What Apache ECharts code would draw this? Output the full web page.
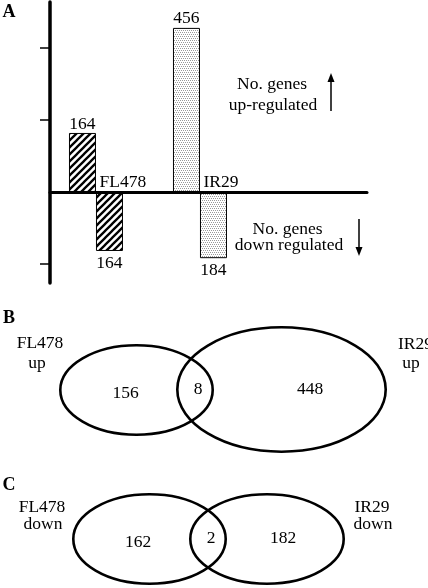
<!DOCTYPE html>
<html lang="en">
<head>
<meta charset="UTF-8">
<title>Up / down regulated genes</title>
<style>
  html, body { margin: 0; padding: 0; background: #fff; }
  #main { width: 428px; height: 588px; }
</style>
</head>
<body>
<div id="main"></div>
<script src="https://cdn.jsdelivr.net/npm/echarts@6/dist/echarts.min.js"></script>
<script>
// data
var genotypes = ['FL478', 'IR29'];
var upRegulated = [164, 456];
var downRegulated = [-164, -184];
var yTickValues = [-200, 200, 400];
// venn counts: [FL478 only, shared, IR29 only]
var upOverlap = [156, 8, 448];
var downOverlap = [162, 2, 182];

// layout for the venn panels (page pixels)
var vennUpEllipses = [[136.5, 390, 76.2, 44.7], [281.5, 389.5, 104.2, 62.2]];
var vennDownEllipses = [[149.5, 539, 76.2, 44.7], [267, 539, 76.7, 44.7]];
var vennUpLabelPos = [[125.5, 393], [198, 389], [310, 389]];
var vennDownLabelPos = [[138, 542], [211, 538], [283, 538]];

var FONT = '"Liberation Serif", "Times New Roman", serif';
var FS = 17.5;

// fill patterns
function hatchPattern() {
    var s = 7;
    var c = document.createElement('canvas');
    c.width = c.height = s;
    var g = c.getContext('2d');
    g.fillStyle = '#fff';
    g.fillRect(0, 0, s, s);
    g.strokeStyle = '#000';
    g.lineWidth = 2.3;
    g.beginPath();
    g.moveTo(-1, s + 1); g.lineTo(s + 1, -1);
    g.moveTo(-1, 1); g.lineTo(1, -1);
    g.moveTo(s - 1, s + 1); g.lineTo(s + 1, s - 1);
    g.stroke();
    return c;
}
function dotPattern() {
    var c = document.createElement('canvas');
    c.width = c.height = 4;
    var g = c.getContext('2d');
    g.fillStyle = '#fff';
    g.fillRect(0, 0, 4, 4);
    g.fillStyle = '#999';
    g.fillRect(0, 0, 1, 1);
    g.fillRect(2, 0, 1, 1);
    g.fillRect(1, 2, 1, 1);
    g.fillRect(3, 2, 1, 1);
    return c;
}
var fills = [
    { image: hatchPattern(), repeat: 'repeat' },
    { image: dotPattern(), repeat: 'repeat' }
];

function barData(values) {
    return values.map(function (v, i) {
        return { value: [i, v], itemStyle: { color: fills[i] } };
    });
}

function labelData(pos, counts) {
    return pos.map(function (p, i) { return [p[0], p[1], counts[i]]; });
}

function txt(str, x, y, opts) {
    opts = opts || {};
    return {
        type: 'text', x: x, y: y, z: 10,
        style: {
            text: str,
            font: (opts.bold ? 'bold ' : '') + (opts.size || FS) + 'px ' + FONT,
            fill: '#000',
            align: opts.align || 'center',
            verticalAlign: 'middle'
        }
    };
}

function arrow(x, y1, y2) {
    // arrow from y1 to y2, head at y2
    var dir = y2 < y1 ? 1 : -1;
    return {
        type: 'group', z: 10,
        children: [
            { type: 'line', shape: { x1: x, y1: y1, x2: x, y2: y2 + dir * 7 }, style: { stroke: '#000', lineWidth: 1.5 } },
            { type: 'polygon', shape: { points: [[x, y2], [x - 3.5, y2 + dir * 9], [x + 3.5, y2 + dir * 9]] }, style: { fill: '#000' } }
        ]
    };
}

var labelStyle = { fontFamily: FONT, fontSize: FS, color: '#000' };

var chart = echarts.init(document.getElementById('main'));
chart.setOption({
    animation: false,
    backgroundColor: '#fff',
    grid: [
        { left: 50, top: 2, width: 317, height: 281 },
        { left: 0, top: 0, width: 428, height: 588 }
    ],
    xAxis: [
        {
            gridIndex: 0, type: 'value', min: -0.442, max: 2.606, z: 3,
            axisLine: { onZero: true, lineStyle: { color: '#000', width: 3 } },
            axisTick: { show: false },
            splitLine: { show: false },
            axisLabel: { show: false }
        },
        { gridIndex: 1, type: 'value', min: 0, max: 428, show: false }
    ],
    yAxis: [
        {
            gridIndex: 0, type: 'value', min: -253, max: 528,
            axisLine: { show: true, onZero: false, lineStyle: { color: '#000', width: 3.5 } },
            axisTick: { show: true, customValues: yTickValues, length: 10, lineStyle: { color: '#000', width: 1.5 } },
            axisLabel: { show: false },
            splitLine: { show: false }
        },
        { gridIndex: 1, type: 'value', min: 0, max: 588, inverse: true, show: false }
    ],
    series: [
        {
            name: 'up', type: 'bar', xAxisIndex: 0, yAxisIndex: 0,
            data: barData(upRegulated),
            barWidth: 27, barGap: '0%',
            itemStyle: { borderColor: '#000', borderWidth: 1 },
            label: Object.assign({ show: true, position: 'top', distance: 0,
                formatter: function (p) { return Math.abs(p.value[1]); } }, labelStyle)
        },
        {
            name: 'down', type: 'bar', xAxisIndex: 0, yAxisIndex: 0,
            data: barData(downRegulated),
            barWidth: 27, barGap: '0%',
            itemStyle: { borderColor: '#000', borderWidth: 1 },
            label: Object.assign({ show: true, position: 'bottom', distance: 3,
                formatter: function (p) { return Math.abs(p.value[1]); } }, labelStyle)
        },
        {
            // genotype names sit on the zero line, right of each group centre
            name: 'genotype', type: 'scatter', xAxisIndex: 0, yAxisIndex: 0, z: 4,
            data: genotypes.map(function (g, i) { return [i, 0]; }),
            symbolSize: 1,
            itemStyle: { color: 'rgba(0,0,0,0)', opacity: 1 },
            label: Object.assign({ show: true, position: [4, 0], align: 'left', verticalAlign: 'bottom',
                formatter: function (p) { return genotypes[p.dataIndex]; } }, labelStyle)
        },
        {
            type: 'custom', xAxisIndex: 1, yAxisIndex: 1,
            data: vennUpEllipses.concat(vennDownEllipses),
            renderItem: function (params, api) {
                var c = api.coord([api.value(0), api.value(1)]);
                var s = api.size([api.value(2) * 2, api.value(3) * 2], [api.value(0), api.value(1)]);
                return {
                    type: 'ellipse',
                    shape: { cx: c[0], cy: c[1], rx: s[0] / 2, ry: s[1] / 2 },
                    style: { fill: 'none', stroke: '#000', lineWidth: 2.6 }
                };
            }
        },
        {
            type: 'scatter', xAxisIndex: 1, yAxisIndex: 1,
            data: labelData(vennUpLabelPos, upOverlap).concat(labelData(vennDownLabelPos, downOverlap)),
            symbolSize: 1,
            itemStyle: { color: 'rgba(0,0,0,0)', opacity: 1 },
            label: Object.assign({ show: true, position: 'inside',
                formatter: function (p) { return p.value[2]; } }, labelStyle)
        }
    ],
    graphic: [
        txt('A', 9, 12, { bold: true, size: 18 }),
        txt('No. genes', 272, 84),
        txt('up-regulated', 273, 105.5),
        arrow(331, 111, 73),
        txt('No. genes', 287.5, 229),
        txt('down regulated', 289, 245.5),
        arrow(359, 219, 256),

        txt('B', 9, 318, { bold: true, size: 18 }),
        txt(genotypes[0], 40, 343),
        txt('up', 37, 363),
        txt(genotypes[1], 398, 344, { align: 'left' }),
        txt('up', 411, 363),

        txt('C', 9, 485, { bold: true, size: 18 }),
        txt(genotypes[0], 42, 507),
        txt('down', 43, 524),
        txt(genotypes[1], 372, 507),
        txt('down', 373, 524)
    ]
});
</script>
</body>
</html>
